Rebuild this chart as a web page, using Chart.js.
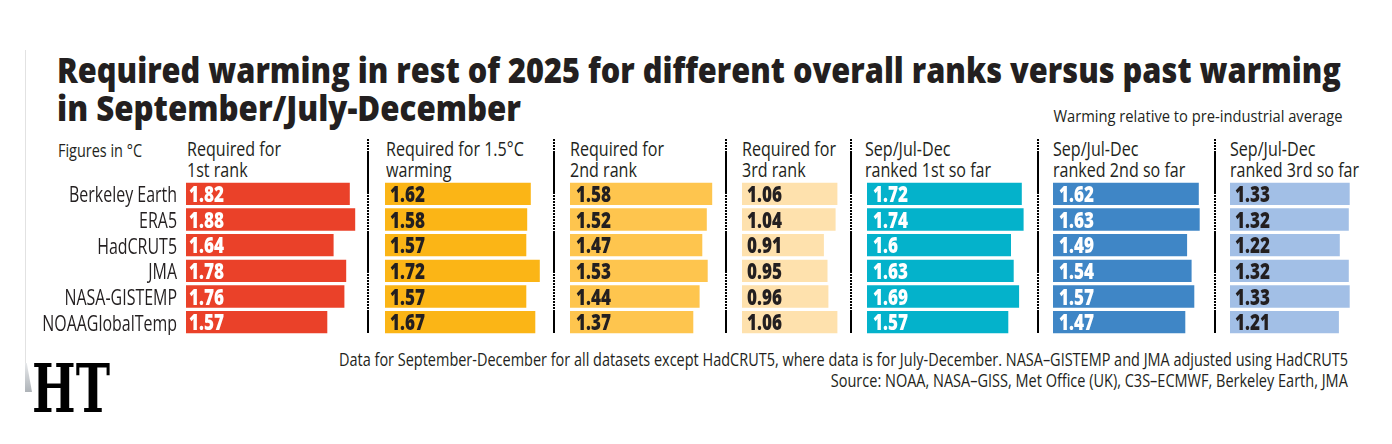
<!DOCTYPE html>
<html><head><meta charset="utf-8">
<script src="https://cdn.jsdelivr.net/npm/chart.js@4.4.1/dist/chart.umd.min.js"></script>
<style>
html,body{margin:0;padding:0;background:#fff;}
body{width:1392px;height:444px;position:relative;overflow:hidden;}
.t{position:absolute;white-space:nowrap;color:#231f20;line-height:normal;left:0;top:0;}
canvas.panel{position:absolute;}
</style></head><body>
<script>
// ---------------- DATA ----------------
const categories = ['Berkeley Earth','ERA5','HadCRUT5','JMA','NASA-GISTEMP','NOAAGlobalTemp'];
const requiredFor1st   = [1.82, 1.88, 1.64, 1.78, 1.76, 1.57];
const requiredFor15C   = [1.62, 1.58, 1.57, 1.72, 1.57, 1.67];
const requiredFor2nd   = [1.58, 1.52, 1.47, 1.53, 1.44, 1.37];
const requiredFor3rd   = [1.06, 1.04, 0.91, 0.95, 0.96, 1.06];
const rankedFirstSoFar = [1.72, 1.74, 1.6, 1.63, 1.69, 1.57];
const rankedSecondSoFar= [1.62, 1.63, 1.49, 1.54, 1.57, 1.47];
const rankedThirdSoFar = [1.33, 1.32, 1.22, 1.32, 1.33, 1.21];
const panelHeaders = [
  ['Required for','1st rank'],
  ['Required for 1.5°C','warming'],
  ['Required for','2nd rank'],
  ['Required for','3rd rank'],
  ['Sep/Jul-Dec','ranked 1st so far'],
  ['Sep/Jul-Dec','ranked 2nd so far'],
  ['Sep/Jul-Dec','ranked 3rd so far']
];
const titleLines = ['Required warming in rest of 2025 for different overall ranks versus past warming','in September/July-December'];
const subtitleText = 'Warming relative to pre-industrial average';
const unitsText = 'Figures in °C';
const noteLines = ['Data for September-December for all datasets except HadCRUT5, where data is for July-December. NASA–GISTEMP and JMA adjusted using HadCRUT5',
                   'Source: NOAA, NASA–GISS, Met Office (UK), C3S–ECMWF, Berkeley Earth, JMA'];

// ---------------- STYLE / LAYOUT ----------------
const FONT = "'Open Sans','Liberation Sans',sans-serif";
const INK = '#231f20';
const PX_PER_UNIT = 90;
const panels = [
  {data:requiredFor1st,    color:'#EA4129', text:'#ffffff', left:186,  max:2.0, head:186.5, pad:3, cats:true},
  {data:requiredFor15C,    color:'#FBB516', text:INK,       left:385,  max:1.8, head:386,   pad:5},
  {data:requiredFor2nd,    color:'#FEC54E', text:INK,       left:570,  max:1.7, head:570,   pad:6},
  {data:requiredFor3rd,    color:'#FEE1AD', text:INK,       left:742,  max:1.2, head:741.5, pad:5},
  {data:rankedFirstSoFar,  color:'#04B2CB', text:'#ffffff', left:867,  max:1.8, head:865,   pad:6},
  {data:rankedSecondSoFar, color:'#3F86C6', text:'#ffffff', left:1053, max:1.8, head:1053,  pad:6},
  {data:rankedThirdSoFar,  color:'#A2BFE6', text:INK,       left:1230, max:1.4, head:1230,  pad:5}
];
const separatorsX = [367.7, 554.3, 725.7, 851.4, 1038, 1214.7];
const CHART_TOP = 181, CHART_H = 154;

// ---------------- TEXT HELPERS ----------------
function placeText(txt, o){
  const d = document.createElement('div');
  d.className = 't';
  d.style.font = (o.weight ? o.weight + ' ' : (o.bold?'bold ':'')) + o.fs + 'px ' + (o.family||FONT);
  d.style.color = o.color || INK;
  d.textContent = txt;
  const m = document.createElement('span');
  m.style.cssText = 'display:inline-block;width:0;height:0;vertical-align:baseline;';
  d.appendChild(m);
  document.body.appendChild(d);
  const base = m.offsetTop;
  const w = d.getBoundingClientRect().width;
  const sx = (o.sx != null) ? o.sx : (o.w / w);
  d.style.top = (o.base - base) + 'px';
  if (o.align === 'right'){
    d.style.left = (o.x - w) + 'px';
    d.style.transformOrigin = 'right top';
  } else {
    d.style.left = o.x + 'px';
    d.style.transformOrigin = 'left top';
  }
  d.style.transform = 'scaleX(' + sx + ')';
  return sx;
}
function drawScaled(ctx, text, x, y, sx, align){
  ctx.save();
  ctx.translate(x, y);
  ctx.scale(sx, 1);
  ctx.textAlign = align;
  ctx.fillText(text, 0, 0);
  ctx.restore();
}

// ---------------- STATIC TEXT ----------------
placeText(titleLines[0], {x:57, base:83, fs:35, weight:800, w:1284});
placeText(titleLines[1], {x:57, base:121, fs:35, weight:800, w:464});
placeText(subtitleText, {x:1342, base:122, fs:16, w:289, align:'right'});
placeText(unitsText, {x:58, base:156.5, fs:19, w:84});
let hsx = null;
panels.forEach((p,i)=>{
  const s = placeText(panelHeaders[i][0], {x:p.head, base:156, fs:20.5, w:94, sx:hsx});
  if (hsx === null) hsx = s;
  placeText(panelHeaders[i][1], {x:p.head, base:176.5, fs:20.5, sx:hsx});
});
placeText(noteLines[0], {x:1348, base:366, fs:17.5, w:1009, align:'right'});
placeText(noteLines[1], {x:1348, base:387, fs:17.5, w:517, align:'right'});
placeText('HT', {x:32, base:412, fs:68, bold:true, w:78, family:"'DejaVu Serif','Liberation Serif',serif", color:'#000'});

// ---------------- DECORATION ----------------
function addDiv(css){ const d=document.createElement('div'); d.style.cssText='position:absolute;'+css; document.body.appendChild(d); return d; }
addDiv('left:25px;top:50px;width:1px;height:314px;background:#e2e2e2;');
addDiv('left:25px;top:363px;width:7px;height:29px;background:linear-gradient(to bottom,#e6e8ea,#aeb3b8);clip-path:polygon(0 0,25% 0,100% 100%,0 100%);');
const segs = [[139,152,'d'],[152,192,'s'],[192,231,'d'],[231,271,'s'],[271,311,'d'],[311,333,'s']];
separatorsX.forEach(x=>{
  segs.forEach(([a,b,k])=>{
    const bg = k==='s' ? '#000' : 'repeating-linear-gradient(to bottom,#000 0px,#000 1.6px,transparent 1.6px,transparent 3px)';
    addDiv(`left:${x-1}px;top:${a}px;width:2px;height:${b-a}px;background:${bg};`);
  });
});

// ---------------- CHARTS ----------------
const barLabels = {
  id:'barLabels',
  afterDatasetsDraw(chart, args, opts){
    const ctx = chart.ctx;
    const meta = chart.getDatasetMeta(0);
    const ds = chart.data.datasets[0];
    ctx.save();
    ctx.textBaseline = 'alphabetic';
    ctx.font = '800 22.5px ' + FONT;
    const vsx = 35 / ctx.measureText('1.82').width;
    ctx.fillStyle = opts.textColor;
    meta.data.forEach((bar, i)=>{
      drawScaled(ctx, String(ds.data[i]), bar.base + opts.pad, bar.y + 8, vsx, 'left');
    });
    if (opts.cats){
      ctx.font = '22px ' + FONT;
      const csx = 108 / ctx.measureText('Berkeley Earth').width;
      ctx.fillStyle = INK;
      const ys = chart.scales.y;
      chart.data.labels.forEach((lab, i)=>{
        drawScaled(ctx, lab, chart.chartArea.left - 9, ys.getPixelForValue(i) + 8.5, csx, 'right');
      });
    }
    ctx.restore();
  }
};

panels.forEach(p=>{
  const padLeft = p.cats ? 146 : 0;
  const w = Math.round(p.max * PX_PER_UNIT);
  const c = document.createElement('canvas');
  c.className = 'panel';
  c.width = w + padLeft; c.height = CHART_H;
  c.style.left = (p.left - padLeft) + 'px';
  c.style.top = CHART_TOP + 'px';
  c.style.width = (w + padLeft) + 'px';
  c.style.height = CHART_H + 'px';
  document.body.appendChild(c);
  new Chart(c, {
    type:'bar',
    data:{labels:categories, datasets:[{data:p.data, backgroundColor:p.color, borderWidth:0, barPercentage:0.87, categoryPercentage:1}]},
    options:{
      indexAxis:'y', responsive:false, animation:false, devicePixelRatio:1,
      layout:{padding:{left:padLeft, right:0, top:0, bottom:0}},
      scales:{
        x:{display:false, min:0, max:p.max},
        y:{display:false}
      },
      plugins:{legend:{display:false}, tooltip:{enabled:false}, title:{display:false},
               barLabels:{textColor:p.text, pad:p.pad, cats:!!p.cats}}
    },
    plugins:[barLabels]
  });
});
</script>
</body></html>
